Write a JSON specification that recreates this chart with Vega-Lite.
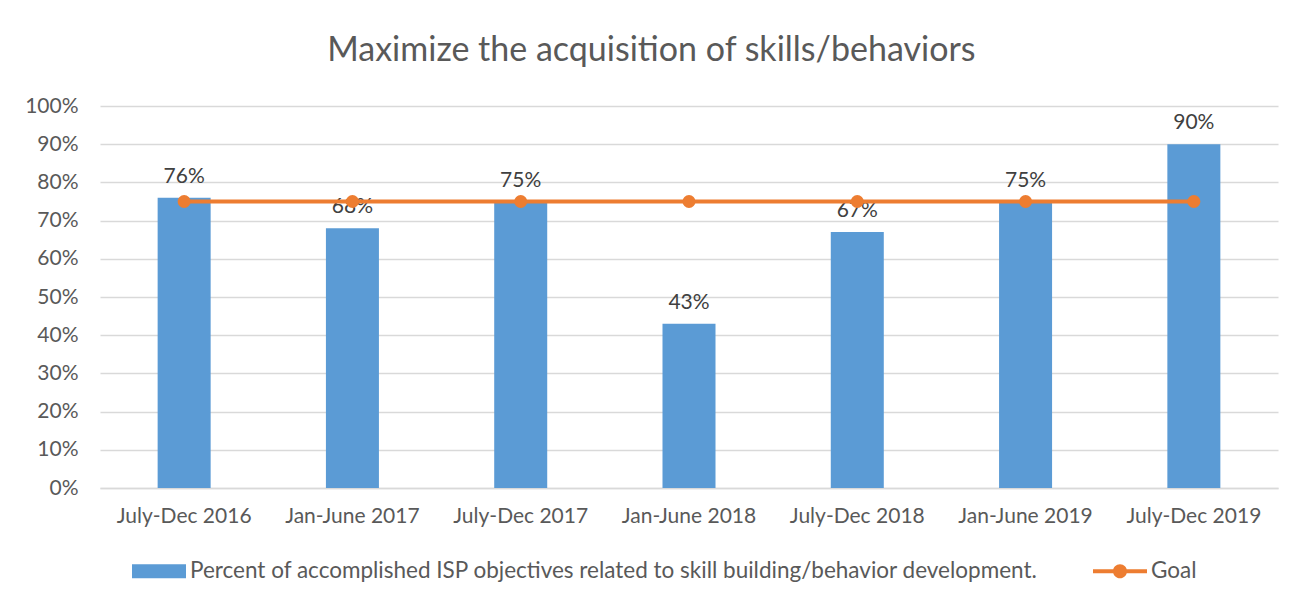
{
  "$schema": "https://vega.github.io/schema/vega-lite/v6.json",
  "autosize": {"type": "none"},
  "width": 1178,
  "height": 382,
  "padding": {"left": 100, "top": 106, "right": 24, "bottom": 115},
  "background": "white",
  "title": {
    "text": "Maximize the acquisition of skills/behaviors",
    "fontSize": 34,
    "font": "Lato",
    "fontWeight": "normal",
    "color": "#595959",
    "anchor": "middle",
    "frame": "bounds",
    "offset": 27
  },
  "config": {
    "font": "Lato",
    "view": {"stroke": null},
    "axis": {"labelFont": "Lato", "labelFontSize": 21, "labelColor": "#595959", "ticks": false, "title": null},
    "axisY": {"values": [0,10,20,30,40,50,60,70,80,90,100], "labelOverlap": false, "domain": false, "gridColor": "#d9d9d9", "gridWidth": 1.5, "labelPadding": 22}
  },
  "data": {
    "values": [
      {"period": "July-Dec 2016", "pct": 76, "goal": 75},
      {"period": "Jan-June 2017", "pct": 68, "goal": 75},
      {"period": "July-Dec 2017", "pct": 75, "goal": 75},
      {"period": "Jan-June 2018", "pct": 43, "goal": 75},
      {"period": "July-Dec 2018", "pct": 67, "goal": 75},
      {"period": "Jan-June 2019", "pct": 75, "goal": 75},
      {"period": "July-Dec 2019", "pct": 90, "goal": 75}
    ]
  },
  "encoding": {
    "x": {
      "field": "period",
      "type": "nominal",
      "sort": null,
      "scale": {"paddingInner": 0.685, "paddingOuter": 0.3425},
      "axis": {"labelAngle": 0, "labelPadding": 17, "domainColor": "#d9d9d9", "domainWidth": 1.5, "grid": false}
    }
  },
  "layer": [
    {
      "mark": {"type": "bar", "color": "#5B9BD5"},
      "encoding": {
        "y": {
          "field": "pct",
          "type": "quantitative",
          "scale": {"domain": [0, 100]},
          "axis": {"values": [0,10,20,30,40,50,60,70,80,90,100], "labelExpr": "datum.value + '%'"}
        },
        "fill": {
          "datum": "Percent of accomplished ISP objectives related to skill building/behavior development.",
          "type": "nominal",
          "scale": {
            "domain": ["Percent of accomplished ISP objectives related to skill building/behavior development.", "Goal"],
            "range": ["#5B9BD5", "#ED7D31"]
          },
          "legend": {
            "orient": "none",
            "legendX": 32,
            "legendY": 438,
            "direction": "horizontal",
            "title": null,
            "labelFontSize": 22.5,
            "labelFont": "Lato",
            "labelColor": "#595959",
            "labelOffset": 4,
            "columnPadding": 54,
            "symbolSize": 2916,
            "symbolStrokeWidth": 0,
            "labelLimit": 1000,
            "encode": {
              "symbols": {
                "update": {
                  "shape": {"signal": "datum.value === 'Goal' ? 'M-1,-0.07H1V0.07H-1Z M0.26,0A0.26,0.26 0 1 1 -0.26,0A0.26,0.26 0 1 1 0.26,0Z' : 'M-1,-0.26H1V0.26H-1Z'"},
                  "fill": {"signal": "datum.value === 'Goal' ? '#ED7D31' : '#5B9BD5'"},
                  "opacity": {"value": 1},
                  "strokeWidth": {"value": 0}
                }
              }
            }
          }
        }
      }
    },
    {
      "mark": {"type": "text", "baseline": "bottom", "dy": -11, "fontSize": 21, "font": "Lato", "color": "#404040"},
      "encoding": {
        "y": {"field": "pct", "type": "quantitative", "axis": {"values": [0,10,20,30,40,50,60,70,80,90,100], "labelExpr": "datum.value + '%'"}},
        "text": {"field": "label", "type": "nominal"}
      },
      "transform": [{"calculate": "datum.pct + '%'", "as": "label"}]
    },
    {
      "mark": {"type": "line", "color": "#ED7D31", "strokeWidth": 4, "point": {"filled": true, "size": 170, "color": "#ED7D31"}},
      "encoding": {
        "y": {"field": "goal", "type": "quantitative", "axis": {"values": [0,10,20,30,40,50,60,70,80,90,100], "labelExpr": "datum.value + '%'"}},
        "fill": {"datum": "Goal", "type": "nominal"}
      }
    }
  ]
}
